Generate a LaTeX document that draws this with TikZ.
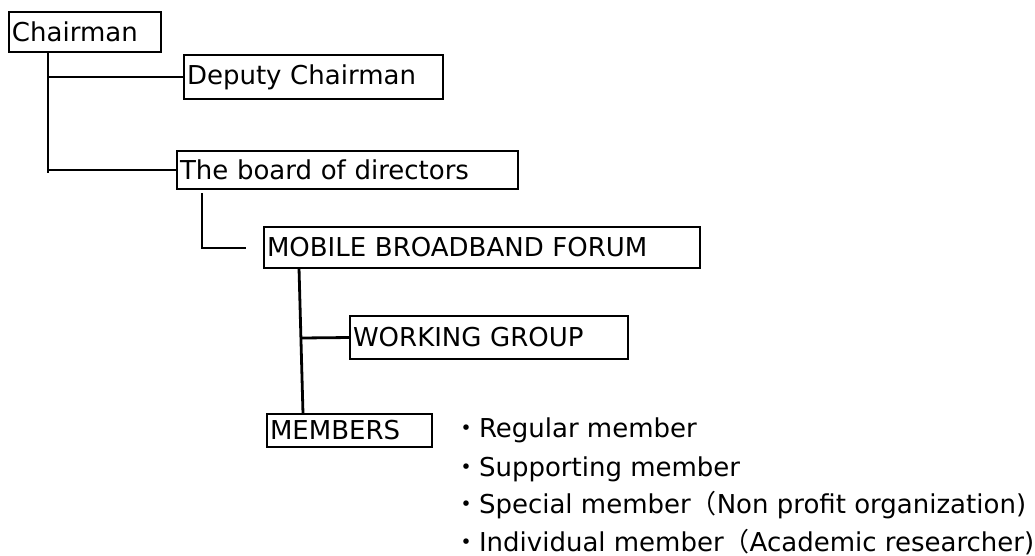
\documentclass[tikz,border=0pt]{standalone}
\usepackage{fontspec}
\setmainfont{DejaVu Sans}
\newfontfamily\cjk{Noto Sans CJK JP}

\begin{document}
\begin{tikzpicture}
        [x=1pt, y=-1pt, every node/.style={font=\fontsize{26}{31}\selectfont, inner sep=0pt, outer sep=0pt},
        box/.style={draw, line width=2pt, anchor=north west, inner xsep=3pt, align=left},
        link/.style={line width=2.8pt, black}]

        \useasboundingbox (0,0) rectangle (1035,556);

        \node[box, text width=146pt, minimum height=40pt] (chair) at (9,12) {Chairman};
        \node[box, text width=253pt, minimum height=44pt] (deputy) at (184,55) {Deputy Chairman};
        \node[box, text width=335pt, minimum height=38pt] (board) at (177,151) {The board of directors};
        \node[box, text width=430pt, minimum height=41pt] (forum) at (264,227) {MOBILE BROADBAND FORUM};
        \node[box, text width=272pt, minimum height=43pt] (wg) at (350,316) {WORKING GROUP};
        \node[box, text width=159pt, minimum height=33pt] (members) at (267,414) {MEMBERS};

        \node[anchor=base west] (m1) at (453,437) {{\cjk ・}Regular member};
        \node[anchor=base west] (m2) at (453,476) {{\cjk ・}Supporting member};
        \node[anchor=base west] (m3) at (453,513) {{\cjk ・}Special member{\cjk （}Non profit organization)};
        \node[anchor=base west] (m4) at (453,551) {{\cjk ・}Individual member{\cjk （}Academic researcher)};

        \coordinate (c1) at (48,173);
        \coordinate (b1) at (202,193);
        \coordinate (b2) at (202,248);
        \coordinate (b3) at (246,248);
        \coordinate (w1) at (302,338);

        \draw[link] (chair.south -| c1) -- (c1);
        \draw[link] ([xshift=-1pt]c1 |- deputy.west) -- (deputy.west);
        \draw[link] ([xshift=-1pt]c1 |- board.west) -- (board.west);
        \draw[link] (b1) -- (b2) -- (b3);
        \draw[link] ([xshift=35pt]forum.south west) -- ([xshift=36pt]members.north west);
        \draw[link] (w1) -- (wg.west);
      \end{tikzpicture}
\end{document}
